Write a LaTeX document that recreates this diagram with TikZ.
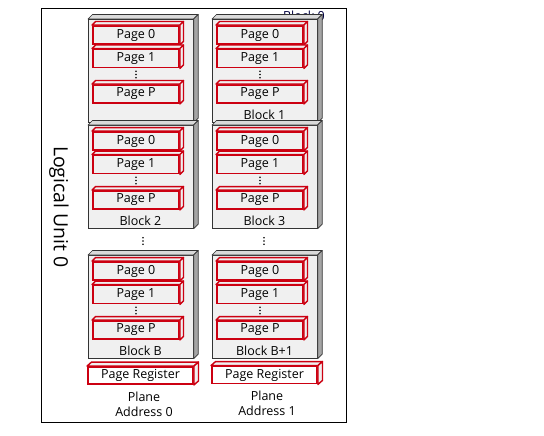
\documentclass[tikz,border=0pt]{standalone}
\usepackage{fontspec}
\setmainfont{Open Sans}
\definecolor{pgred}{RGB}{204,0,17}
\definecolor{blkfill}{RGB}{240,240,240}
\definecolor{blktop}{RGB}{218,218,218}
\definecolor{blkside}{RGB}{165,165,165}
\tikzset{
  blockface/.style={draw=black!80, line width=0.7pt, fill=blkfill, minimum width=105pt, minimum height=103pt, inner sep=0pt, anchor=north west},
  blocktop/.style={draw=black!80, line width=0.7pt, fill=blktop, line join=round},
  blockside/.style={draw=black!80, line width=0.7pt, fill=blkside, line join=round},
  pageface/.style={draw=pgred, line width=1.9pt, fill=blkfill, minimum width=86pt, minimum height=18pt, inner sep=0pt, font=\fontsize{12.5}{15}\selectfont},
  pagedepth/.style={draw=pgred, line width=1.4pt, fill=blkfill, line join=round},
  regface/.style={draw=pgred, line width=1.9pt, fill=white, minimum width=105pt, minimum height=17pt, inner sep=0pt, font=\fontsize{12.5}{15}\selectfont},
  lbl/.style={font=\fontsize{12.5}{15}\selectfont, inner sep=0pt},
  frame/.style={draw=black, line width=0.8pt},
}
% 3D top and side of a node: #1 node, #2 dx, #3 dy, #4 style
\newcommand\deptheffect[4]{%
  \path[#4] (#1.north west) -- ++(#2,-#3) -- ([shift={(#2,-#3)}]#1.north east) -- (#1.north east) -- cycle;
  \path[#4] (#1.north east) -- ++(#2,-#3) -- ([shift={(#2,-#3)}]#1.south east) -- (#1.south east) -- cycle;
}
\newcommand\vdotsnode[1]{%
  \foreach \k in {-3.3,0,3.3} \fill ([shift={(0,\k)}]#1) circle (0.9pt);
}
% block: #1 name, #2 x, #3 y, #4 label
\newcommand\flashblock[4]{%
  \node[blockface] (#1) at (#2,#3) {};
  \path[blocktop] (#1.north west) -- ++(4.5,-4.5) -- ([shift={(4.5,-4.5)}]#1.north east) -- (#1.north east) -- cycle;
  \path[blockside] (#1.north east) -- ++(4.5,-4.5) -- ([shift={(4.5,-4.5)}]#1.south east) -- (#1.south east) -- cycle;
  \node[pageface] (#1p0) at ([shift={(48,16)}]#1.north west) {Page 0};
  \deptheffect{#1p0}{3.5}{3.5}{pagedepth}
  \node[pageface] (#1p1) at ([shift={(48,39.5)}]#1.north west) {Page 1};
  \deptheffect{#1p1}{3.5}{3.5}{pagedepth}
  \coordinate (#1dots) at ([shift={(48,55.5)}]#1.north west);
  \vdotsnode{#1dots}
  \node[pageface] (#1pp) at ([shift={(48,75)}]#1.north west) {Page P};
  \deptheffect{#1pp}{3.5}{3.5}{pagedepth}
  \node[lbl] (#1lbl) at ([shift={(52.5,95.5)}]#1.north west) {#4};
}
\begin{document}
\begin{tikzpicture}[x=1pt,y=-1pt]
\useasboundingbox (0,0) rectangle (544,436);
\fill[white] (0,0) rectangle (544,436);
% frame
\coordinate (fnw) at (41,8);
\coordinate (fse) at (346,422);
\draw[frame] (fnw) rectangle (fse);
\node[rotate=-90, font=\fontsize{19.5}{20}\selectfont, inner sep=0pt] (lu) at (59,207) {Logical Unit 0};
\node[lbl, text=black!75!blue] (b0name) at (304,16) {Block 0};
% column 0
\flashblock{blkA}{88}{19}{}
\flashblock{blkC}{88}{125}{Block 2}
\coordinate (midA) at (143,241);
\vdotsnode{midA}
\flashblock{blkE}{88}{255}{Block B}
% column 1
\flashblock{blkB}{212}{19}{Block 1}
\flashblock{blkD}{212}{125}{Block 3}
\coordinate (midB) at (264,241);
\vdotsnode{midB}
\flashblock{blkF}{212}{255}{Block B+1}
% page registers
\node[regface] (regA) at (140.5,375.5) {Page Register};
\deptheffect{regA}{4.5}{4}{pagedepth}
\node[regface] (regB) at (264.5,375) {Page Register};
\deptheffect{regB}{4.5}{4}{pagedepth}
% plane labels
\node[lbl, align=center] (plA) at (144,404.5) {Plane\\Address 0};
\node[lbl, align=center] (plB) at (267,403.5) {Plane\\Address 1};
\end{tikzpicture}
\end{document}
